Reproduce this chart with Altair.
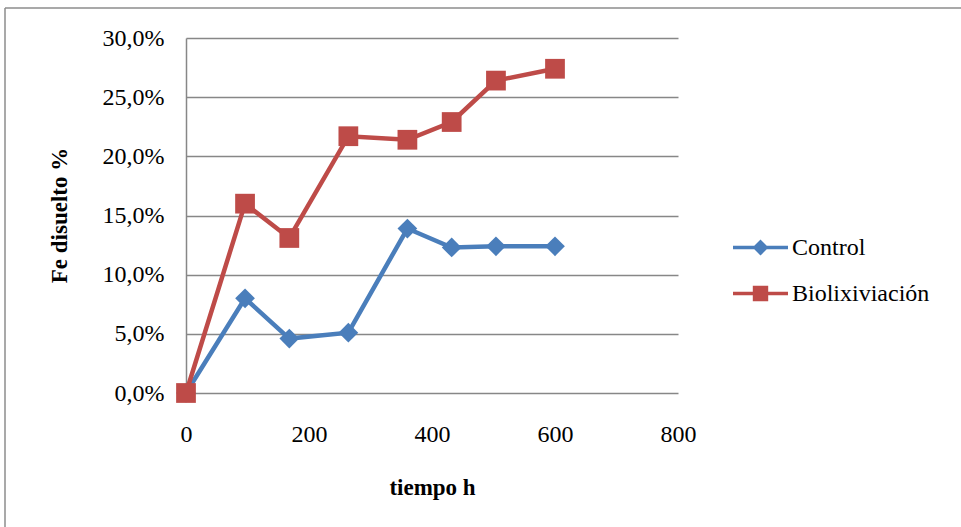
import altair as alt
import pandas as pd

# ---- data ----
hours = [0, 96, 168, 264, 360, 432, 504, 600]
control_pct = [0.0, 8.0, 4.6, 5.1, 13.9, 12.3, 12.4, 12.4]
bio_pct = [0.0, 16.0, 13.1, 21.7, 21.4, 22.9, 26.4, 27.4]
series_names = ["Control", "Biolixiviación"]
series_colors = ["#4a7ebb", "#be4b48"]
x_ticks = [0, 200, 400, 600, 800]
y_ticks = [0.0, 0.05, 0.10, 0.15, 0.20, 0.25, 0.30]

rows = []
for name, vals in zip(series_names, [control_pct, bio_pct]):
    for h, v in zip(hours, vals):
        rows.append({"tiempo": h, "fe": v / 100.0, "serie": name})
df = pd.DataFrame(rows)

FONT = "Liberation Serif"
FS = 24
W, H = 492, 355
PL, PT = 186, 38
PR, PB = 961 - PL - W, 527 - PT - H

x_enc = alt.X(
    "tiempo:Q",
    scale=alt.Scale(domain=[0, 800], nice=False),
    axis=alt.Axis(
        values=x_ticks, grid=False, domain=False, ticks=False, labelFlush=False,
        labelFont=FONT, labelFontSize=FS, labelColor="#000000", labelPadding=29,
        title="tiempo h", titleFont=FONT, titleFontSize=23, titleFontWeight="bold",
        titleColor="#000000", titleY=94, titleBaseline="middle",
    ),
)
y_enc = alt.Y(
    "fe:Q",
    scale=alt.Scale(domain=[0, 0.30], nice=False),
    axis=alt.Axis(
        values=y_ticks, grid=True, gridColor="#878787", gridWidth=1.3,
        domain=True, domainColor="#878787", domainWidth=1.5, ticks=False,
        labelExpr="replace(format(datum.value, '.1%'), '.', ',')",
        labelFont=FONT, labelFontSize=FS, labelColor="#000000", labelPadding=22,
        title="Fe disuelto %", titleFont=FONT, titleFontSize=23, titleFontWeight="bold",
        titleColor="#000000", titleX=-127, titleY=177, titleAngle=270,
        titleAlign="center", titleBaseline="middle",
    ),
)

base = alt.Chart(df)

layers = []
for name, color, shape in zip(series_names, series_colors, ["diamond", "square"]):
    sub = base.transform_filter(alt.datum.serie == name)
    layers.append(sub.mark_line(strokeWidth=4.5, color=color).encode(x=x_enc, y=y_enc))
    layers.append(
        sub.mark_point(filled=True, opacity=1, size=390, shape=shape, color=color)
        .encode(x=x_enc, y=y_enc)
    )

# legend symbols: line segment with marker
line_part = "M-1,-0.065H1V0.065H-1Z"
diamond_part = "M0,-0.29L0.29,0L0,0.29L-0.29,0Z"
square_part = "M-0.28,-0.28H0.28V0.28H-0.28Z"
legend_paths = [line_part + diamond_part, line_part + square_part]

legend_props = dict(
    title=None, orient="none", legendX=547, legendY=182,
    symbolSize=3025, symbolOpacity=1, symbolStrokeWidth=0,
    labelFont=FONT, labelFontSize=FS, labelColor="#000000", labelOffset=4,
    rowPadding=6,
)
legend_layer = base.mark_point(filled=True, opacity=0, size=10).encode(
    x=x_enc, y=y_enc,
    color=alt.Color("serie:N", scale=alt.Scale(domain=series_names, range=series_colors),
                    legend=alt.Legend(**legend_props)),
    shape=alt.Shape("serie:N", scale=alt.Scale(domain=series_names, range=legend_paths),
                    legend=alt.Legend(**legend_props)),
)

# outer frame of the original figure (decoration)
frame_top = alt.Chart(pd.DataFrame({"k": [0]})).mark_rule(color="#8c8c8c", strokeWidth=1.5).encode(
    x=alt.value(-(PL - 5)), x2=alt.value(W + PR + 5), y=alt.value(-(PT - 8))
)
frame_left = alt.Chart(pd.DataFrame({"k": [0]})).mark_rule(color="#8c8c8c", strokeWidth=1.5).encode(
    x=alt.value(-(PL - 5)), y=alt.value(-(PT - 8)), y2=alt.value(H + PB + 5)
)

chart = alt.layer(frame_top, frame_left, legend_layer, *layers).properties(
    width=W, height=H,
    autosize=alt.AutoSizeParams(type="none"),
    padding={"left": PL, "top": PT, "right": PR, "bottom": PB},
    background="#ffffff",
).configure_view(stroke=None)

chart.save("out.html", embed_options={"renderer": "svg", "actions": False})
